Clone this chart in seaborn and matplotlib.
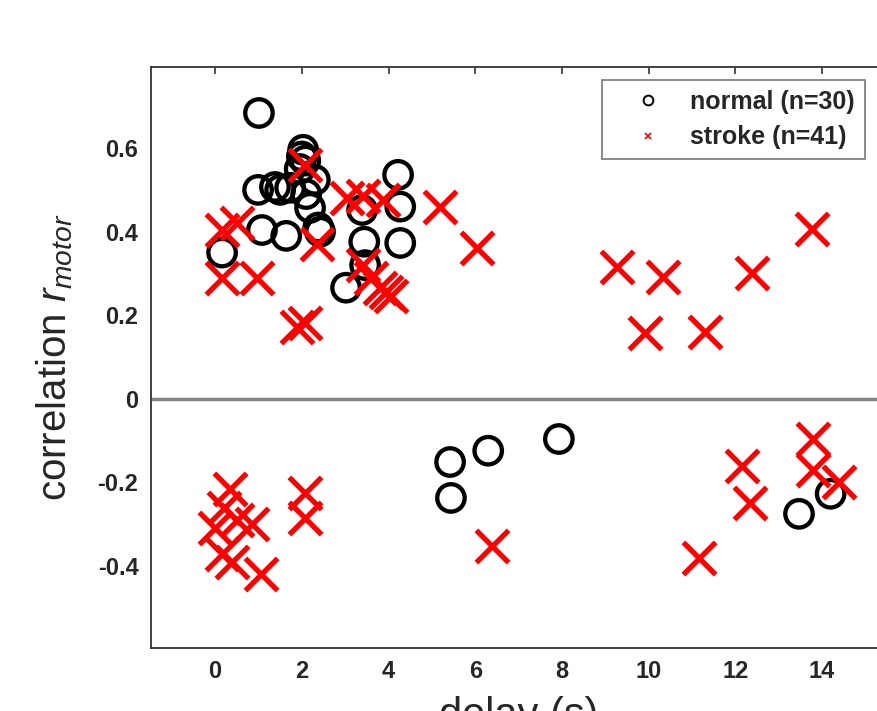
import numpy as np
import pandas as pd
import matplotlib
matplotlib.use("Agg")
import matplotlib.pyplot as plt
from matplotlib.lines import Line2D
import seaborn as sns

# ---- data ----
normal_delay = [1.01, 2.03, 2.08, 2.0, 1.95, 0.99, 1.38, 1.73, 1.5, 2.3,
                2.19, 2.1, 2.42, 1.08, 1.64, 0.16, 4.22, 4.27, 4.27, 3.44,
                3.39, 3.46, 3.02, 2.38, 5.42, 5.44, 6.30, 7.93, 13.47, 14.20]
normal_corr = [0.684, 0.596, 0.57, 0.58, 0.55, 0.50, 0.507, 0.505, 0.50, 0.524,
               0.457, 0.49, 0.40, 0.404, 0.39, 0.35, 0.536, 0.46, 0.373, 0.376,
               0.452, 0.32, 0.266, 0.41, -0.151, -0.237, -0.124, -0.096, -0.275, -0.227]

stroke_delay = [2.08, 0.16, 0.50, 0.16, 0.97, 1.89, 2.08, 2.35, 3.04, 3.41,
                3.87, 5.19, 6.04, 3.41, 3.60, 3.80, 3.95, 4.05, 9.27, 10.33,
                9.92, 11.30, 12.38, 13.77, 6.39, 11.16, 12.15, 12.34, 13.80, 13.80,
                14.40, 0.35, 0.20, 0.00, 0.50, 0.85, 0.15, 0.40, 1.05, 2.08, 2.08]
stroke_corr = [0.56, 0.405, 0.42, 0.29, 0.29, 0.172, 0.182, 0.37, 0.48, 0.485,
               0.475, 0.46, 0.36, 0.32, 0.29, 0.265, 0.255, 0.245, 0.316, 0.292,
               0.158, 0.16, 0.30, 0.407, -0.352, -0.38, -0.16, -0.25, -0.095, -0.17,
               -0.20, -0.215, -0.26, -0.31, -0.29, -0.30, -0.37, -0.39, -0.42, -0.225, -0.285]

legend_labels = ["normal (n=30)", "stroke (n=41)"]
x_ticks = [0, 2, 4, 6, 8, 10, 12, 14]
y_ticks = [-0.4, -0.2, 0, 0.2, 0.4, 0.6]
y_tick_labels = ["-0.4", "-0.2", "0", "0.2", "0.4", "0.6"]

normal_df = pd.DataFrame({"delay": normal_delay, "corr": normal_corr})
stroke_df = pd.DataFrame({"delay": stroke_delay, "corr": stroke_corr})

sns.set_style("white")
plt.rcParams["font.family"] = ["Liberation Sans", "DejaVu Sans"]
plt.rcParams["mathtext.fontset"] = "custom"
plt.rcParams["mathtext.rm"] = "Liberation Sans"
plt.rcParams["mathtext.it"] = "Liberation Sans:italic"

W, H = 878, 711
fig = plt.figure(figsize=(W / 100, H / 100), dpi=100)
left, right, top, bottom = 151, 887, 67, 648
ax = fig.add_axes([left / W, 1 - bottom / H, (right - left) / W, (bottom - top) / H])

ax.axhline(0, color="#858585", lw=2.5, zorder=1)

sns.scatterplot(data=normal_df, x="delay", y="corr", ax=ax, marker="o", s=390,
                facecolor="none", edgecolor="black", linewidth=3.1, zorder=3)
sns.scatterplot(data=stroke_df, x="delay", y="corr", ax=ax, marker="x", s=540,
                color="red", linewidth=3.8, zorder=4)

ax.set_xlim(-1.48, 15.5)
ax.set_ylim(-0.596, 0.794)
ax.set_xticks(x_ticks)
ax.set_xticklabels([str(t) for t in x_ticks])
ax.set_yticks(y_ticks)
ax.set_yticklabels(y_tick_labels)

for sp in ax.spines.values():
    sp.set_color("#333333")
    sp.set_linewidth(1.3)
ax.tick_params(direction="in", length=5, width=1.2, color="#333333",
               top=True, right=True, labelsize=17, pad=9)
for lab in ax.get_xticklabels() + ax.get_yticklabels():
    lab.set_fontweight("bold")

ax.set_xlabel("delay (s)", fontsize=30, labelpad=9)
ax.set_ylabel("correlation $r_{motor}$", fontsize=29, labelpad=16)

handles = [
    Line2D([], [], ls="none", marker="o", markersize=7, markerfacecolor="none",
           markeredgecolor="black", markeredgewidth=1.4),
    Line2D([], [], ls="none", marker="x", markersize=5, color="red", markeredgewidth=1.2),
]
leg = fig.legend(handles, legend_labels, loc="upper left",
                 bbox_to_anchor=(602 / W, 1 - 80 / H), borderaxespad=0,
                 frameon=True, fancybox=False,
                 prop={"size": 18, "weight": "bold"}, handletextpad=0.24,
                 borderpad=0.4, labelspacing=0.45, handlelength=2.88)
leg.get_frame().set_edgecolor("#555555")
leg.get_frame().set_linewidth(1.2)

fig.savefig("out.png", dpi=100)
